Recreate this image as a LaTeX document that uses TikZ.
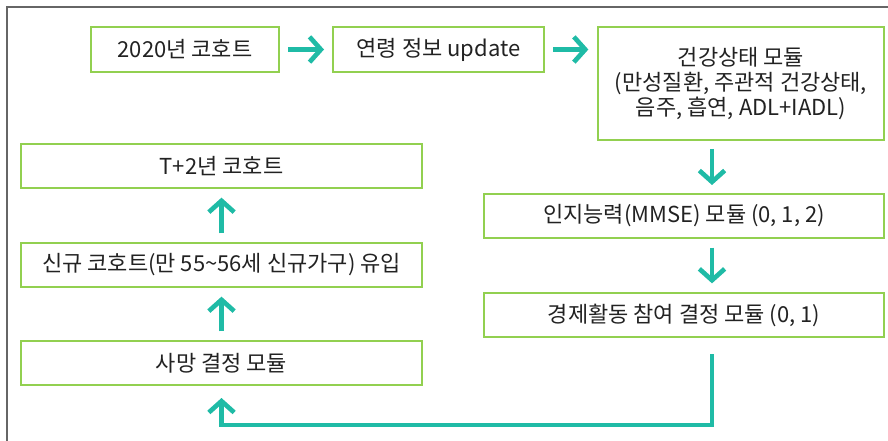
\documentclass[tikz,border=0pt]{standalone}
\usepackage{fontspec}
\setmainfont{Noto Sans CJK KR}
\usetikzlibrary{arrows.meta}
\definecolor{boxgreen}{HTML}{92D050}
\definecolor{arrteal}{HTML}{1FBBA6}
\definecolor{framegray}{HTML}{666666}
\definecolor{txt}{HTML}{222222}
\begin{document}
\begin{tikzpicture}[x=0.75pt,y=-0.75pt,
  box/.style={draw=boxgreen, line width=1.5pt, inner sep=0pt, text=txt,
    font=\fontsize{16.5pt}{18.75pt}\selectfont, align=center},
  arr/.style={draw=arrteal, line width=3.5pt, line join=miter,
    -{Straight Barb[sharp, length=8.5pt, width=19pt]}}]
\useasboundingbox (0,0) rectangle (888,441);
\draw[framegray, line width=1.5pt] (6.5,441) -- (6.5,7) -- (888,7);
\node[box, minimum width=188*0.75pt, minimum height=45*0.75pt] (b1) at (185,49.5) {2020년 코호트};
\node[box, minimum width=211*0.75pt, minimum height=45*0.75pt] (b2) at (438.5,49.5) {연령 정보 update};
\node[box, minimum width=286*0.75pt, minimum height=113*0.75pt] (b3) at (741,83.5) {건강상태 모듈\\(만성질환, 주관적 건강상태,\\음주, 흡연, ADL+IADL)};
\node[box, minimum width=400*0.75pt, minimum height=44*0.75pt] (b4) at (684,216) {인지능력(MMSE) 모듈 (0, 1, 2)};
\node[box, minimum width=400*0.75pt, minimum height=44*0.75pt] (b5) at (684,315) {경제활동 참여 결정 모듈 (0, 1)};
\node[box, minimum width=401*0.75pt, minimum height=44*0.75pt] (b6) at (221.5,166) {T+2년 코호트};
\node[box, minimum width=401*0.75pt, minimum height=44*0.75pt] (b7) at (221.5,265) {신규 코호트(만 55\textasciitilde 56세 신규가구) 유입};
\node[box, minimum width=401*0.75pt, minimum height=44*0.75pt] (b8) at (221.5,363) {사망 결정 모듈};
\coordinate (turn) at (712,425);
\draw[arr, shorten <=6pt, shorten >=6pt] (b1.east) -- (b2.west);
\draw[arr, shorten <=6pt, shorten >=6.5pt] (b2.east) -- (b3.west |- b2.east);
\draw[arr, shorten <=6pt, shorten >=6pt] (b3.south -| turn) -- (b4.north -| turn);
\draw[arr, shorten <=6.5pt, shorten >=6.5pt] (b4.south -| turn) -- (b5.north -| turn);
\draw[arr, shorten <=12pt, shorten >=9pt] (b5.south -| turn) -- (turn) -| (b8.south);
\draw[arr, shorten <=6.5pt, shorten >=6.5pt] (b8.north) -- (b7.south);
\draw[arr, shorten <=6.5pt, shorten >=6.5pt] (b7.north) -- (b6.south);
\end{tikzpicture}
\end{document}
